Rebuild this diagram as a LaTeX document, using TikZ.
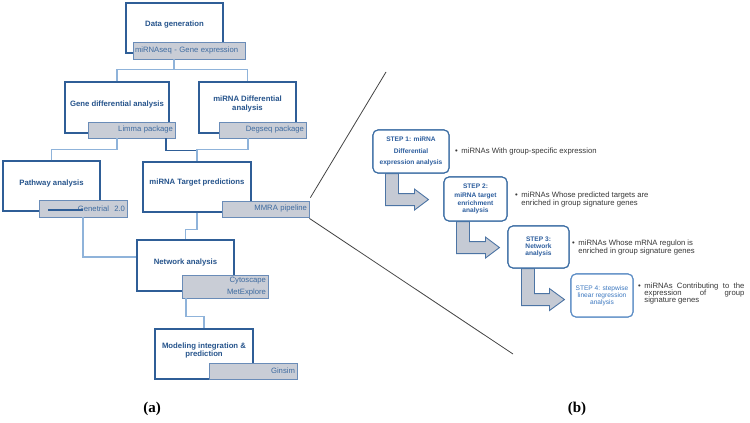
\documentclass[tikz,border=0pt]{standalone}
\usepackage{fontspec}
\newfontfamily\arial{Liberation Sans}
\newfontfamily\lserif{Liberation Serif}
\usetikzlibrary{calc}
\definecolor{ttl}{HTML}{26548C}
\definecolor{bdr}{HTML}{2F5E97}
\definecolor{lconn}{HTML}{8FB3DA}
\definecolor{gfill}{HTML}{C9CDD6}
\definecolor{gbdr}{HTML}{6A8CB8}
\definecolor{gtxt}{HTML}{3E6BA0}
\definecolor{sbdr}{HTML}{3A6CA3}
\definecolor{stxt}{HTML}{2D5E9E}
\definecolor{afill}{HTML}{C5CAD4}
\definecolor{abdr}{HTML}{4C74A4}
\definecolor{sfbdr}{HTML}{5B8CC5}
\definecolor{sftxt}{HTML}{3C78C0}
\definecolor{btxt}{HTML}{383838}
\definecolor{zline}{HTML}{444444}
\begin{document}
\begin{tikzpicture}[x=1pt,y=-1pt,
  wbox/.style={draw=bdr,line width=1.1pt,fill=white,inner sep=0pt},
  gbox/.style={draw=gbdr,line width=0.8pt,fill=gfill,inner sep=2pt,font=\arial\fontsize{7.7}{9}\selectfont,text=gtxt},
  ttlt/.style={font=\arial\bfseries\fontsize{7.75}{8.2}\selectfont,text=ttl,align=center,inner sep=0pt},
  conn/.style={draw=lconn,line width=1.1pt},
  dconn/.style={draw=bdr,line width=1.1pt},
  sbox/.style={draw=sbdr,line width=1.1pt,rounded corners=5pt,fill=white,inner sep=1pt,font=\arial\bfseries\fontsize{6.6}{7.2}\selectfont,text=stxt,align=center},
  arr/.style={fill=afill,draw=abdr,line width=0.9pt,line join=miter},
  btext/.style={font=\arial\fontsize{7.7}{8}\selectfont,text=btxt,inner sep=0pt,anchor=west},
  zoomline/.style={draw=zline,line width=0.8pt},
  plabel/.style={font=\lserif\bfseries\fontsize{15}{17}\selectfont,inner sep=0pt}
]
\path[use as bounding box,fill=white] (0,0) rectangle (750,423);

% ---------- panel (a): white boxes ----------
\node[wbox,minimum width=97pt,minimum height=50pt] (dg) at (174.5,28) {};
\node[wbox,minimum width=104pt,minimum height=51pt] (gda) at (117,107.5) {};
\node[wbox,minimum width=97pt,minimum height=51pt] (mda) at (247.5,107.5) {};
\node[wbox,minimum width=97pt,minimum height=50pt] (pa) at (51.5,186) {};
\node[wbox,minimum width=108pt,minimum height=50pt] (mtp) at (197,187) {};
\node[wbox,minimum width=97pt,minimum height=51pt] (net) at (185.5,265.5) {};
\node[wbox,minimum width=98pt,minimum height=50pt] (mod) at (204,354) {};

\node[ttlt] (dgT) at ([yshift=3pt]dg.center) {Data generation};
\node[ttlt] (gdaT) at ([yshift=3.5pt]gda.center) {Gene differential analysis};
\node[ttlt] (mdaT) at ([yshift=3.5pt]mda.center) {miRNA Differential\\analysis};
\node[ttlt] (paT) at ([yshift=3pt]pa.center) {Pathway analysis};
\node[ttlt] (mtpT) at ([yshift=4pt]mtp.center) {miRNA Target predictions};
\node[ttlt] (netT) at ([yshift=3.5pt]net.center) {Network analysis};
\node[ttlt] (modT) at ([yshift=3.5pt]mod.center) {Modeling integration \&\\prediction};

% ---------- panel (a): gray tool boxes ----------
\node[gbox,text width=108pt,minimum height=17pt,align=left] (dgg) at (189,50.5) {miRNAseq - Gene expression};
\node[gbox,text width=83pt,minimum height=16pt,align=right] (limma) at (131.5,130) {Limma package};
\node[gbox,text width=83pt,minimum height=16pt,align=right] (degseq) at (262.5,130) {Degseq package};
\node[gbox,text width=84pt,minimum height=17pt,align=right] (gen) at (83,208.5) {Genetrial\ \ 2.0};
\node[gbox,text width=83pt,minimum height=16pt,align=right] (mmra) at (265.5,209) {MMRA pipeline};
\node[gbox,text width=82pt,minimum height=23pt,align=right,font=\arial\fontsize{7.7}{12}\selectfont] (cyto) at (225,286.5) {Cytoscape\\MetExplore};
\node[gbox,text width=84pt,minimum height=16pt,align=right] (gins) at (253,371) {Ginsim};

\draw[dconn] ([xshift=-35pt,yshift=-1.5pt]gen.center) -- ([yshift=-1.5pt]gen.center);

% ---------- panel (a): connectors ----------
\draw[conn] ([xshift=-15pt]dgg.south) -- ++(0,11);
\draw[conn] (gda.north) -- ++(0,-12) -| (mda.north);
\draw[conn] (pa.north) -- ++(0,-11) -| ([xshift=-14.5pt]limma.south);
\draw[dconn] ([xshift=34.5pt]limma.south) |- ($(mtp.north)+(0,-11)$);
\draw[conn] ([xshift=-14.5pt]degseq.south) |- ($(mtp.north)+(0,-12)$) -- (mtp.north);
\draw[conn] (gen.south) |- ([yshift=8.5pt]net.west);
\draw[conn] (mtp.south) -- ++(0,17) -| (net.north);
\draw[conn] ([xshift=-39pt]cyto.south) |- ($(mod.north)+(0,-12)$) -- (mod.north);

% ---------- zoom lines ----------
\coordinate (zt) at (386,72);
\coordinate (zb) at (513,354);
\draw[zoomline] ([xshift=1pt,yshift=3pt]mmra.north east) -- (zt);
\draw[zoomline] ([yshift=-1pt]mmra.south east) -- (zb);

% ---------- panel (b): steps ----------
\node[sbox,minimum width=76pt,minimum height=43pt] (s1) at (411,151.5) {};
\node[sbox,minimum width=63pt,minimum height=44pt] (s2) at (475.5,199) {};
\node[sbox,minimum width=61pt,minimum height=42pt] (s3) at (538.5,247) {};
\node[sbox,minimum width=62pt,minimum height=43pt,draw=sfbdr] (s4) at (602,295.5) {};

\draw[arr] ([xshift=13pt]s1.south west) -- ++(13,0) -- ++(0,20) -- ++(16,0) -- ++(0,-4.5) -- ++(14,10.5) -- ++(-14,10.5) -- ++(0,-4.5) -- ++(-29,0) -- cycle;
\draw[arr] ([xshift=13pt]s2.south west) -- ++(13,0) -- ++(0,20) -- ++(16,0) -- ++(0,-4.5) -- ++(14,10.5) -- ++(-14,10.5) -- ++(0,-4.5) -- ++(-29,0) -- cycle;
\draw[arr] ([xshift=14pt]s3.south west) -- ++(13,0) -- ++(0,25) -- ++(15,0) -- ++(0,-5) -- ++(15,11) -- ++(-15,11) -- ++(0,-5) -- ++(-28,0) -- cycle;

% redraw step boxes over arrow tops
\node[sbox,minimum width=76pt,minimum height=43pt,font=\arial\bfseries\fontsize{6.6}{11.5}\selectfont] (s1b) at (s1) {STEP 1: miRNA\\Differential\\expression analysis};
\node[sbox,minimum width=63pt,minimum height=44pt] (s2b) at (s2) {STEP 2:\\[1.8pt]miRNA target\\enrichment\\analysis};
\node[sbox,minimum width=61pt,minimum height=42pt] (s3b) at (s3) {STEP 3:\\Network\\analysis};
\node[sbox,minimum width=62pt,minimum height=43pt,draw=sfbdr,text=sftxt,font=\arial\fontsize{6.6}{7.2}\selectfont] (s4b) at (s4) {STEP 4: stepwise\\linear regression\\analysis};

% ---------- bullets ----------
\node[btext] (b1) at (455,152) {\textbullet\hspace{3.5pt}miRNAs With group-specific expression};
\node[btext] (b2) at (515,199.5) {\begin{tabular}{@{}l@{\hspace{3.5pt}}l@{}}\textbullet&miRNAs Whose predicted targets are\\&enriched in group signature genes\end{tabular}};
\node[btext] (b3) at (572,248) {\begin{tabular}{@{}l@{\hspace{3.5pt}}l@{}}\textbullet&miRNAs Whose mRNA regulon is\\&enriched in group signature genes\end{tabular}};
\node[btext,font=\arial\fontsize{7.7}{7.2}\selectfont] (b4) at (638,294) {\begin{tabular}{@{}l@{\hspace{3.5pt}}p{100pt}@{}}\textbullet&miRNAs Contributing to the\linebreak expression of group\linebreak signature genes\end{tabular}};

% ---------- panel labels ----------
\node[plabel] (la) at (152,409) {(a)};
\node[plabel] (lb) at (577,409) {(b)};
\end{tikzpicture}
\end{document}
